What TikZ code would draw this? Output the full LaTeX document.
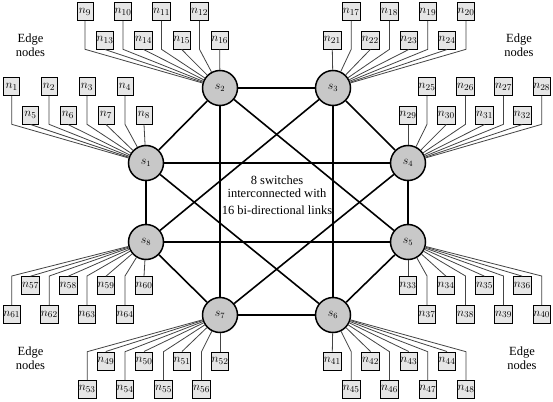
\documentclass[tikz,border=0pt]{standalone}
\usepackage{fontspec}
\setmainfont{Liberation Serif}
\definecolor{swgray}{HTML}{C8C8C8}
\definecolor{boxgray}{HTML}{E6E6E6}
\definecolor{linegray}{HTML}{444444}
\begin{document}
\begin{tikzpicture}[x=1pt,y=-1pt,
  sw/.style={circle,draw=black,line width=1.5pt,fill=swgray,minimum size=35pt,inner sep=0pt,font=\fontsize{12}{12}\selectfont},
  en/.style={rectangle,draw=black,line width=0.6pt,fill=boxgray,minimum width=16pt,minimum height=18pt,inner sep=0.4pt,font=\fontsize{12.5}{12.5}\selectfont},
  link/.style={line width=1.6pt,draw=black},
  el/.style={line width=0.8pt,draw=linegray},
  lbl/.style={font=\fontsize{12.5}{14}\selectfont,align=center}]
\useasboundingbox (0,0) rectangle (553,401);
\fill[white] (0,0) rectangle (553,401);

% switches
\node[sw] (s1) at (146,163) {$s_1$};
\node[sw] (s2) at (220,88) {$s_2$};
\node[sw] (s3) at (333,88) {$s_3$};
\node[sw] (s4) at (408,163) {$s_4$};
\node[sw] (s5) at (408,242) {$s_5$};
\node[sw] (s6) at (333,315) {$s_6$};
\node[sw] (s7) at (220,315) {$s_7$};
\node[sw] (s8) at (146,242) {$s_8$};

% 16 links
\draw[link] (s1) -- (s4);
\draw[link] (s8) -- (s5);
\draw[link] (s2) -- (s3);
\draw[link] (s7) -- (s6);
\draw[link] (s1) -- (s8);
\draw[link] (s4) -- (s5);
\draw[link] (s2) -- (s7);
\draw[link] (s3) -- (s6);
\draw[link] (s1) -- (s2);
\draw[link] (s3) -- (s4);
\draw[link] (s5) -- (s6);
\draw[link] (s7) -- (s8);
\draw[link] (s1) -- (s6);
\draw[link] (s8) -- (s3);
\draw[link] (s2) -- (s5);
\draw[link] (s4) -- (s7);

% bend levels
\coordinate (b1) at (0,124.3);
\coordinate (b2) at (0,49.3);
\coordinate (b5) at (0,276);
\coordinate (b6) at (0,351.7);

% group s1
\foreach \n/\x in {1/11.7,2/49,3/87,4/125} {
  \node[en] (n\n) at (\x,86.7) {$n_{\n}$};
  \draw[el] (n\n.south) -- (n\n.south |- b1) -- (s1);
}
\foreach \n/\x in {5/30.5,6/68,7/106,8/144} {
  \node[en] (n\n) at (\x,115.2) {$n_{\n}$};
  \draw[el] (n\n.south) -- (s1);
}
% group s2
\foreach \n/\x in {9/85,10/123,11/161.5,12/199.5} {
  \node[en] (n\n) at (\x,11.7) {$n_{\n}$};
  \draw[el] (n\n.south) -- (n\n.south |- b2) -- (s2);
}
\foreach \n/\x in {13/105,14/143.5,15/181.7,16/219.7} {
  \node[en] (n\n) at (\x,40.2) {$n_{\n}$};
  \draw[el] (n\n.south) -- (s2);
}
% group s3
\foreach \n/\x in {17/351.2,18/389.5,19/427.8,20/466} {
  \node[en] (n\n) at (\x,11.7) {$n_{\n}$};
  \draw[el] (n\n.south) -- (n\n.south |- b2) -- (s3);
}
\foreach \n/\x in {21/332.3,22/370.3,23/408.8,24/447} {
  \node[en] (n\n) at (\x,40.2) {$n_{\n}$};
  \draw[el] (n\n.south) -- (s3);
}
% group s4
\foreach \n/\x in {25/427,26/465.5,27/503.5,28/541.7} {
  \node[en] (n\n) at (\x,86.7) {$n_{\n}$};
  \draw[el] (n\n.south) -- (n\n.south |- b1) -- (s4);
}
\foreach \n/\x in {29/408,30/446.3,31/484.5,32/522.3} {
  \node[en] (n\n) at (\x,115.2) {$n_{\n}$};
  \draw[el] (n\n.south) -- (s4);
}
% group s5
\foreach \n/\x in {33/408,34/446,35/484.5,36/522.3} {
  \node[en] (n\n) at (\x,285.5) {$n_{\n}$};
  \draw[el] (n\n.north) -- (s5);
}
\foreach \n/\x in {37/427,38/465.5,39/503.5,40/541.7} {
  \node[en] (n\n) at (\x,314.5) {$n_{\n}$};
  \draw[el] (n\n.north) -- (n\n.north |- b5) -- (s5);
}
% group s6
\foreach \n/\x in {41/332.3,42/370.5,43/408.8,44/447} {
  \node[en] (n\n) at (\x,360.8) {$n_{\n}$};
  \draw[el] (n\n.north) -- (s6);
}
\foreach \n/\x in {45/351.2,46/389.5,47/427.8,48/466} {
  \node[en] (n\n) at (\x,389.3) {$n_{\n}$};
  \draw[el] (n\n.north) -- (n\n.north |- b6) -- (s6);
}
% group s7
\foreach \n/\x in {49/105.8,50/144,51/182,52/220} {
  \node[en] (n\n) at (\x,360.8) {$n_{\n}$};
  \draw[el] (n\n.north) -- (s7);
}
\foreach \n/\x in {53/87.2,54/125,55/163.5,56/201.5} {
  \node[en] (n\n) at (\x,389.3) {$n_{\n}$};
  \draw[el] (n\n.north) -- (n\n.north |- b6) -- (s7);
}
% group s8
\foreach \n/\x in {57/30.5,58/68.3,59/106,60/144} {
  \node[en] (n\n) at (\x,285.5) {$n_{\n}$};
  \draw[el] (n\n.north) -- (s8);
}
\foreach \n/\x in {61/11.7,62/49.3,63/87,64/125} {
  \node[en] (n\n) at (\x,314.5) {$n_{\n}$};
  \draw[el] (n\n.north) -- (n\n.north |- b5) -- (s8);
}

% labels
\node[lbl] (e1) at (30.5,45) {Edge\\nodes};
\node[lbl] (e2) at (519,45) {Edge\\nodes};
\node[lbl] (e3) at (30.5,358) {Edge\\nodes};
\node[lbl] (e4) at (522,358) {Edge\\nodes};
\node[lbl] (ctr) at (277,195) {8 switches\\[-0.5pt]interconnected with\\[3pt]16 bi-directional links};
\end{tikzpicture}
\end{document}
